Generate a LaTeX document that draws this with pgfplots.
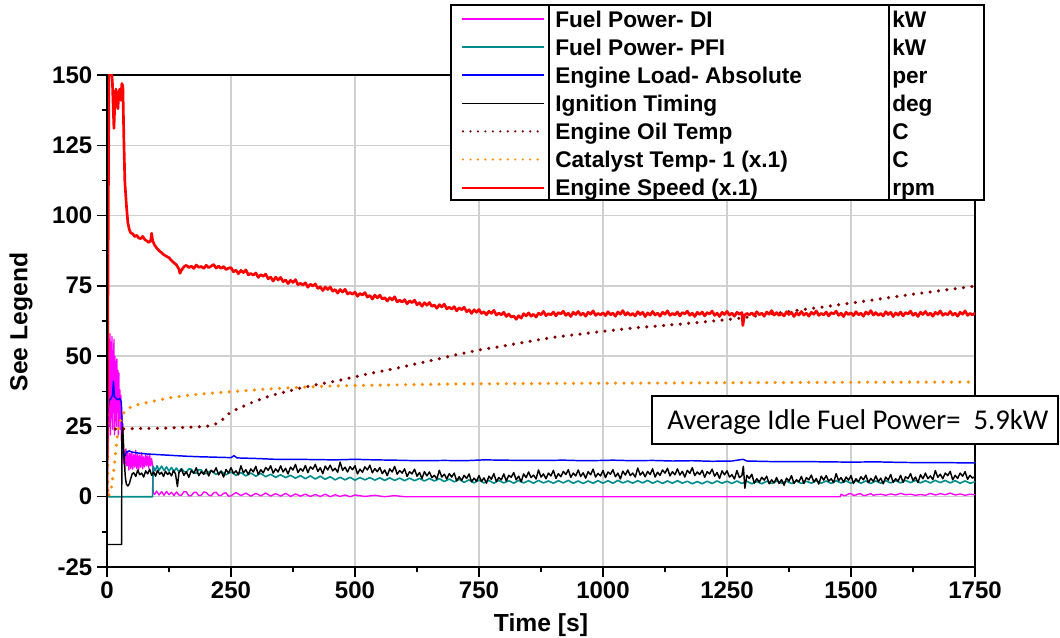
\documentclass[border=0pt]{standalone}
\usepackage{pgfplots}
\pgfplotsset{compat=1.18}
\usepackage{fontspec}
\setmainfont{Liberation Sans}
\newfontfamily\carlito{Carlito}
\definecolor{cMag}{RGB}{255,0,255}
\definecolor{cTeal}{RGB}{0,140,140}
\definecolor{cBlue}{RGB}{0,0,255}
\definecolor{cOil}{RGB}{128,0,0}
\definecolor{cCat}{RGB}{255,140,0}
\definecolor{cRed}{RGB}{255,0,0}
\definecolor{cGrid}{RGB}{208,208,208}
\tikzset{
  sDI/.style={draw=cMag, line width=1pt, line join=round},
  sPFI/.style={draw=cTeal, line width=1.2pt, line join=round},
  sLoad/.style={draw=cBlue, line width=1.1pt, line join=round},
  sIgn/.style={draw=black, line width=1.1pt, line join=round},
  sOil/.style={draw=cOil, line width=2.6pt, line cap=round, dash pattern=on 0pt off 6.3pt},
  sCat/.style={draw=cCat, line width=2.6pt, line cap=round, dash pattern=on 0pt off 6.3pt},
  sSpd/.style={draw=cRed, line width=2pt, line join=round},
}
\begin{document}
\begin{tikzpicture}
\begin{axis}[
  at={(0pt,0pt)}, anchor=south west,
  scale only axis, width=651pt, height=369pt,
  xmin=0, xmax=1750, ymin=-25, ymax=150,
  xtick={0,250,...,1750}, ytick={-25,0,...,150},
  minor tick num=1,
  tickpos=left,
  tick align=outside,
  major tick length=7.5pt, minor tick length=4pt,
  tick style={black, line width=1.1pt},
  grid=major,
  major grid style={draw=cGrid, line width=1pt},
  axis line style={line width=0.8pt},
  tick label style={font=\fontsize{18}{21}\selectfont\bfseries},
  /pgf/number format/assume math mode=true,
  /pgf/number format/1000 sep={},
  xlabel={Time [s]}, ylabel={See Legend},
  label style={font=\fontsize{18.5}{22}\selectfont\bfseries},
  xlabel style={at={(axis description cs:0.5,-0.118)}, anchor=center},
  ylabel style={at={(axis description cs:-0.099,0.498)}, anchor=center},
  no markers,
]
% Fuel Power- DI
\addplot[sDI] coordinates {
(0,0)(2,45)(3,20)(4,56)(5,25)(6,58)(7,22)(8,55)(9,28)(10,57)(11,24)(12,52)(13,30)(14,56)(15,22)
(16,50)(17,27)(18,48)(19,25)(20,49)(21,30)(22,45)(23,22)(24,44)(25,27)(26,38)(27,24)(28,36)(29,20)
(30,30)(31,18)(32,26)(33,12)(34,16)(36,10)(38,17)(40,11)(42,16)(44,9.5)(46,15.5)(48,10)(50,16)
(52,9.8)(54,15)(56,10.5)(58,16.5)(60,10)(62,15)(64,9.6)(66,14.8)(68,10.5)(70,15.6)(72,10)(74,14.2)
(76,10.6)(78,15)(80,11)(82,14.5)(84,10.2)(86,15.2)(88,11)(90,13.5)(92,11)(93,1.5)(96,0.8)(100,2.0)
(105,0.6)(110,1.8)(115,0.5)(120,1.9)(125,0.7)(130,1.6)(135,0.4)(140,1.7)(145,0.6)(150,0.5)(155,1.8)
(160,1.7)(165,0.3)(170,0.4)(175,1.5)(180,1.6)(185,0.4)(190,0.5)(195,1.7)(200,1.5)(205,0.6)(210,0.3)
(215,1.4)(220,1.6)(225,0.5)(230,0.4)(235,1.2)(240,1.4)(245,0.2)(250,0.3)(260,1.5)(270,0.4)(280,1.3)
(290,0.2)(300,1.2)(310,0.3)(320,1.3)(330,0.2)(340,1.1)(350,0.2)(360,1.2)(370,0.1)(380,1.0)(390,0.2)
(400,0.9)(410,0.1)(420,0.8)(430,0.1)(440,0.9)(450,0.0)(460,0.7)(470,0.1)(480,0.6)(490,0.0)(500,0.6)
(520,0.1)(540,0.5)(560,0.0)(580,0.4)(600,0.0)(1478,0)(1480,0.9)(1485,0.4)(1490,0.5)(1495,1.0)(1500,1.1)
(1505,0.5)(1510,0.6)(1515,1.0)(1520,1.0)(1525,0.4)(1530,0.5)(1540,1.1)(1545,0.5)(1550,0.7)(1560,0.9)
(1570,0.5)(1580,1.0)(1590,0.6)(1600,1.2)(1610,0.7)(1620,0.9)(1630,0.5)(1640,0.8)(1650,0.5)(1660,1.2)
(1670,0.6)(1680,1.1)(1690,0.7)(1700,1.3)(1710,0.6)(1720,1.0)(1730,0.5)(1740,0.9)(1750,0.7)
};
% Fuel Power- PFI
\addplot[sPFI] coordinates {
(0,0)(92,0)(93,10.8)(97,9.2)(101,11.0)(105,9.4)(110,10.9)(115,9.3)(120,10.6)(125,9.1)(130,10.4)
(135,9.0)(140,10.2)(145,8.8)(150,10.0)(155,9.0)(160,8.7)(165,9.9)(170,9.8)(175,8.5)(180,8.4)(185,9.6)
(190,9.5)(195,8.3)(200,8.2)(210,9.3)(220,7.9)(230,9.0)(240,7.8)(250,8.8)(260,7.6)(270,8.6)(280,7.4)
(290,8.4)(300,7.3)(310,8.3)(320,7.1)(330,8.0)(340,6.9)(350,7.8)(360,6.8)(370,7.6)(380,6.6)(390,7.5)
(400,6.4)(410,7.4)(420,6.3)(430,7.3)(440,6.2)(450,7.1)(460,6.0)(470,6.9)(480,6.0)(490,6.9)(500,5.9)
(510,6.8)(520,6.0)(530,6.8)(540,5.9)(550,6.7)(560,5.8)(570,6.7)(580,5.8)(590,6.6)(600,5.7)(610,6.6)
(620,5.7)(630,6.5)(640,5.6)(650,6.5)(660,5.6)(670,6.4)(680,5.4)(690,6.3)(700,5.3)(710,6.2)(720,5.1)
(730,6.0)(740,4.9)(750,5.9)(760,4.9)(770,5.8)(780,4.8)(790,5.8)(800,4.9)(810,5.7)(820,4.8)(830,5.8)
(840,4.9)(850,5.7)(860,4.8)(870,5.8)(880,4.9)(890,5.6)(900,4.8)(910,5.7)(920,4.9)(930,5.8)(940,4.8)
(950,5.6)(960,4.7)(970,5.6)(980,4.8)(990,5.7)(1000,4.8)(1010,5.7)(1020,4.8)(1030,5.8)(1040,4.9)
(1050,5.6)(1060,4.8)(1070,5.7)(1080,4.9)(1090,5.8)(1100,4.8)(1110,5.6)(1120,4.7)(1130,5.6)(1140,4.8)
(1150,5.7)(1160,4.8)(1170,5.5)(1180,4.6)(1190,5.4)(1200,4.6)(1210,5.5)(1220,4.7)(1230,5.6)(1240,4.8)
(1250,5.5)(1260,4.7)(1270,5.6)(1280,4.7)(1290,5.5)(1300,4.6)(1310,5.4)(1320,4.6)(1330,5.5)(1340,4.7)
(1350,5.6)(1360,4.8)(1370,5.5)(1380,4.7)(1390,5.6)(1400,4.7)(1410,5.5)(1420,4.8)(1430,5.7)(1440,4.8)
(1450,5.6)(1460,4.7)(1470,5.7)(1480,4.9)(1490,5.6)(1500,4.8)(1510,5.7)(1520,4.8)(1530,5.6)(1540,4.7)
(1550,5.6)(1560,4.8)(1570,5.7)(1580,4.9)(1590,5.7)(1600,4.9)(1610,5.8)(1620,5.0)(1630,5.8)(1640,4.9)
(1650,5.7)(1660,4.9)(1670,5.8)(1680,5.0)(1690,5.8)(1700,4.9)(1710,5.7)(1720,4.8)(1730,5.6)(1740,4.8)
(1750,5.3)
};
% Engine Load- Absolute
\addplot[sLoad] coordinates {
(0,0)(2,30)(4,34)(8,35)(11,36)(13,41)(15,35.5)(18,35)(22,34.5)(26,35)(29,33.5)(31,22)(33,14)(36,14.5)
(40,16)(45,16.3)(50,15.9)(60,15.6)(70,15.4)(80,15.2)(100,15)(120,14.8)(140,14.6)(160,14.4)(188,14.2)
(210,14.1)(250,13.9)(256,14.6)(262,13.8)(300,13.6)(340,13.3)(380,13.3)(420,13.2)(460,13.1)(500,13.3)
(540,13.1)(580,13.0)(600,12.9)(640,12.8)(680,12.9)(720,12.8)(760,13.1)(800,13.0)(840,12.9)(880,12.9)
(920,13.0)(960,12.8)(1000,12.9)(1020,13.0)(1060,12.8)(1100,12.9)(1140,12.7)(1180,12.8)(1220,12.6)
(1260,12.7)(1282,13.3)(1290,12.7)(1340,12.5)(1400,12.5)(1450,12.4)(1500,12.3)(1550,12.4)(1600,12.2)
(1650,12.1)(1700,12.1)(1750,12.0)
};
% Ignition Timing
\addplot[sIgn] coordinates {
(0,0)(0.5,-17)(29.5,-17)(30,22)(31.5,24.5)(33,20)(35,12)(37,7)(39,4.5)(42,3.8)(45,4.6)(48,6.5)(51,8.2)
(54,8.5)(58,7.2)(62,9.5)(66,7.8)(70,8.4)(74,7.0)(78,9.2)(82,8.1)(86,9.8)(90,7.6)(94,8.8)(98,7.3)
(102,9.4)(106,8.0)(110,8.7)(114,7.2)(118,9.1)(122,7.9)(126,8.6)(130,7.4)(134,9.3)(138,8.2)(142,3.6)
(145,8.5)
(150,9.8)(155,7.6)(160,8.9)(165,6.9)(170,9.3)(175,8.3)(180,10.3)(185,7.5)(190,8.9)(195,8.0)
(200,9.8)(205,7.4)(210,9.4)(215,8.6)(220,10.3)(225,7.8)(230,9.1)(235,7.0)(240,9.7)(245,8.4)
(250,10.3)(255,8.3)(260,9.2)(265,7.8)(270,11.0)(275,8.5)(280,9.6)(285,7.9)(290,9.9)(295,8.8)
(300,10.8)(305,7.9)(310,9.6)(315,8.5)(320,10.4)(325,9.4)(330,11.0)(335,8.4)(340,9.9)(345,8.8)
(350,11.0)(355,8.8)(360,10.1)(365,8.1)(370,10.5)(375,9.5)(380,11.5)(385,8.6)(390,10.0)(395,9.1)
(400,11.1)(405,8.6)(410,10.6)(415,9.8)(420,11.5)(425,9.0)(430,10.3)(435,8.2)(440,10.9)(445,9.5)
(450,11.2)(455,9.2)(460,10.1)(465,8.7)(470,12.3)(475,9.4)(480,10.5)(485,8.8)(490,10.7)(495,9.6)
(500,11.0)(505,8.1)(510,9.8)(515,8.7)(520,10.6)(525,9.5)(530,11.2)(535,8.5)(540,10.0)(545,8.9)
(550,10.4)(555,8.2)(560,9.5)(565,7.5)(570,9.9)(575,8.8)(580,10.8)(585,8.0)(590,9.3)(595,8.4)
(600,9.9)(605,7.2)(610,8.9)(615,8.1)(620,9.8)(625,7.3)(630,8.6)(635,6.5)(640,8.9)(645,7.4)
(650,8.8)(655,6.8)(660,7.6)(665,6.3)(670,9.4)(675,7.0)(680,8.0)(685,6.3)(690,8.2)(695,7.0)
(700,8.4)(705,5.6)(710,7.1)(715,5.8)(720,7.6)(725,6.5)(730,8.1)(735,5.3)(740,6.6)(745,5.5)
(750,7.5)(755,5.4)(760,6.7)(765,4.8)(770,7.3)(775,6.2)(780,8.2)(785,5.4)(790,6.8)(795,6.0)
(800,8.1)(805,5.6)(810,7.6)(815,6.9)(820,8.6)(825,6.0)(830,7.3)(835,5.3)(840,8.1)(845,6.8)
(850,8.8)(855,6.8)(860,7.7)(865,6.3)(870,9.5)(875,7.0)(880,8.1)(885,6.4)(890,8.4)(895,7.4)
(900,9.4)(905,6.5)(910,8.2)(915,7.1)(920,9.0)(925,7.9)(930,9.6)(935,6.9)(940,8.4)(945,7.4)
(950,9.5)(955,7.2)(960,8.5)(965,6.6)(970,8.9)(975,7.8)(980,9.8)(985,7.0)(990,8.3)(995,7.4)
(1000,9.3)(1005,6.8)(1010,8.8)(1015,8.0)(1020,9.6)(1025,7.1)(1030,8.4)(1035,6.3)(1040,9.1)(1045,7.7)
(1050,9.5)(1055,7.5)(1060,8.4)(1065,7.0)(1070,10.2)(1075,7.7)(1080,8.8)(1085,7.1)(1090,9.0)(1095,7.9)
(1100,9.9)(1105,7.0)(1110,8.7)(1115,7.6)(1120,9.5)(1125,8.4)(1130,10.1)(1135,7.4)(1140,8.9)(1145,7.8)
(1150,9.9)(1155,7.7)(1160,9.0)(1165,7.0)(1170,9.4)(1175,8.3)(1180,10.3)(1185,7.5)(1190,8.8)(1195,7.9)
(1200,9.4)(1205,6.9)(1210,8.9)(1215,8.1)(1220,9.8)(1225,7.3)(1230,8.6)(1235,6.5)(1240,9.2)(1245,7.8)
(1250,9.2)(1255,7.0)(1260,7.8)(1265,6.3)(1270,9.3)(1275,6.8)(1280,7.5)(1283,10.8)(1286,3.0)(1290,7.6)
(1295,6.5)
(1300,8.0)(1305,4.8)(1310,6.4)(1315,5.2)(1320,6.9)(1325,5.9)(1330,7.3)(1335,4.6)(1340,6.0)(1345,4.9)
(1350,6.8)(1355,4.7)(1360,6.1)(1365,4.1)(1370,6.6)(1375,5.5)(1380,7.5)(1385,4.7)(1390,6.0)(1395,5.3)
(1400,7.2)(1405,4.7)(1410,6.8)(1415,6.0)(1420,7.7)(1425,5.2)(1430,6.5)(1435,4.5)(1440,7.3)(1445,5.9)
(1450,7.5)(1455,5.5)(1460,6.4)(1465,5.0)(1470,8.2)(1475,5.7)(1480,6.8)(1485,5.1)(1490,7.0)(1495,5.9)
(1500,7.5)(1505,4.7)(1510,6.4)(1515,5.3)(1520,7.1)(1525,6.0)(1530,7.7)(1535,5.0)(1540,6.5)(1545,5.4)
(1550,7.4)(1555,5.3)(1560,6.6)(1565,4.6)(1570,7.0)(1575,5.9)(1580,7.9)(1585,5.1)(1590,6.4)(1595,5.5)
(1600,7.6)(1605,5.1)(1610,7.1)(1615,6.4)(1620,8.2)(1625,5.7)(1630,7.0)(1635,5.0)(1640,7.8)(1645,6.4)
(1650,8.4)(1655,6.4)(1660,7.4)(1665,6.1)(1670,9.3)(1675,6.9)(1680,8.0)(1685,6.4)(1690,8.4)(1695,7.5)
(1700,9.0)(1705,6.0)(1710,7.6)(1715,6.5)(1720,8.4)(1725,7.3)(1730,8.9)(1735,6.2)(1740,7.6)(1745,6.6)
(1750,7.2)
};
% Engine Oil Temp
\addplot[sOil] coordinates {
(0,24)(50,24.2)(100,24.3)(150,24.6)(200,25.0)(215,25.6)(228,26.6)(240,28.6)(250,30.2)(261,31.1)
(295,33.7)(329,35.9)(362,37.4)(396,38.9)(436,40.3)(463,41.2)(524,43.6)(584,45.7)(650,48.3)(700,50.3)
(750,52.2)(792,53.4)(850,55.2)(900,56.7)(994,58.7)(1060,60.0)(1129,61.0)(1195,62.0)(1262,63.2)
(1330,64.8)(1397,66.4)(1498,68.8)(1599,71.4)(1680,73.3)(1750,74.9)
};
% Catalyst Temp- 1 (x.1)
\addplot[sCat] coordinates {
(0,62)(1,30)(2,0)(8,2)(11,6)(15,11.3)(18,16.6)(21,22)(25,26)(30,28.5)(36,30.5)(43,31.4)(55,32.4)
(73,33.2)(100,34.2)(120,35)(150,35.8)(188,36.5)(254,37.4)(322,38.3)(389,38.9)(456,39.4)(524,39.6)
(591,39.8)(700,40.1)(900,40.3)(1200,40.5)(1500,40.7)(1750,40.8)
};
% Engine Speed (x.1)
\addplot[sSpd] coordinates {
(0,0)(4,155)(8,155)(11,147)(13,136)(14,131)(16,141)(18,145)(20,140)(22,138)(24,144)(26,145)(28,141)
(30,147)(32,146)(34,127)(36,112)(39,104)(42,97.5)(45,95)(48,93.8)(52,93.5)(56,92.5)(60,93)(64,92)
(68,91.8)(72,92.6)(76,91.5)(80,91)(84,90.5)(88,91)(90,93.7)(92,91)(96,89.5)(100,88.5)(105,87.5)
(110,86.8)(115,86)(120,85.5)(125,85)(130,84)(135,83.2)(140,82.5)(145,81)(147,79.5)(150,80.5)
(155,81.8)(160,82.3)(165,81.5)(170,82)(175,81.2)(180,82.4)(185,81.6)(190,81.9)(195,81.2)(200,82.3)
(205,81.5)(210,82)(215,82.6)(220,81.3)(225,82)(230,81.2)(235,81.9)(240,80.8)(245,81.3)
(250,81.5)(255,80.0)(260,80.6)(265,79.3)(270,80.5)(275,79.7)(280,80.7)(285,78.9)(290,79.4)(295,78.8)
(300,79.6)(305,78.0)(310,79.0)(315,78.4)(320,79.2)(325,77.5)(330,78.1)(335,76.7)(340,78.1)(345,77.1)
(350,78.0)(355,76.5)(360,77.1)(365,75.8)(370,77.0)(375,76.2)(380,77.2)(385,75.4)(390,75.9)(395,75.3)
(400,76.1)(405,74.5)(410,75.6)(415,74.9)(420,75.7)(425,74.1)(430,74.7)(435,73.3)(440,74.6)(445,73.7)
(450,74.6)(455,73.1)(460,73.7)(465,72.4)(470,73.7)(475,72.8)(480,73.8)(485,72.1)(490,72.6)(495,72.0)
(500,72.8)(505,71.3)(510,72.3)(515,71.7)(520,72.6)(525,71.0)(530,71.6)(535,70.3)(540,71.7)(545,70.7)
(550,71.7)(555,70.3)(560,70.8)(565,69.6)(570,70.8)(575,70.0)(580,71.1)(585,69.3)(590,69.9)(595,69.2)
(600,70.1)(605,68.6)(610,69.7)(615,69.0)(620,69.9)(625,68.3)(630,69.0)(635,67.7)(640,69.0)(645,68.1)
(650,69.1)(655,67.7)(660,68.2)(665,67.0)(670,68.3)(675,67.5)(680,68.5)(685,66.8)(690,67.4)(695,66.7)
(700,67.6)(705,66.1)(710,67.2)(715,66.5)(720,67.4)(725,65.8)(730,66.5)(735,65.2)(740,66.5)(745,65.6)
(750,66.6)(755,65.2)(760,65.8)(765,64.7)(770,66.0)(775,65.2)(780,66.3)(785,64.6)(790,65.3)(795,64.7)
(800,65.6)(805,64.1)(810,65.0)(815,63.9)(820,64.3)(825,63.1)(830,64.4)(835,63.5)(840,65.1)(845,64.3)
(850,65.4)(855,64.2)(860,64.9)(865,63.9)(870,65.3)(875,64.7)(880,65.9)(885,64.4)(890,65.1)(895,64.7)
(900,65.7)(905,64.3)(910,65.5)(915,65.0)(920,66.0)(925,64.5)(930,65.3)(935,64.1)(940,65.6)(945,64.8)
(950,65.9)(955,64.6)(960,65.3)(965,64.2)(970,65.6)(975,64.9)(980,66.1)(985,64.5)(990,65.2)(995,64.7)
(1000,65.4)(1005,64.4)(1010,65.8)(1015,64.7)(1020,65.3)(1025,64.2)(1030,65.7)(1035,64.9)(1040,66.2)(1045,64.6)
(1050,65.5)(1055,64.5)(1060,65.2)(1065,64.3)(1070,65.8)(1075,64.8)(1080,65.6)(1085,64.1)(1090,65.4)(1095,64.6)
(1100,65.9)(1105,64.6)(1110,65.3)(1115,64.2)(1120,65.6)(1125,64.9)(1130,66.1)(1135,64.5)(1140,65.2)(1145,64.7)
(1150,65.7)(1155,64.3)(1160,65.5)(1165,65.0)(1170,66.0)(1175,64.5)(1180,65.3)(1185,64.1)(1190,65.6)(1195,64.8)
(1200,65.7)(1205,64.3)(1210,65.5)(1215,65.0)(1220,66.0)(1225,64.5)(1230,65.3)(1235,64.1)(1240,65.6)(1245,64.8)
(1250,65.9)(1255,64.6)(1260,65.3)(1265,64.2)(1270,65.6)(1275,64.9)(1280,65.5)(1282,60.9)(1285,64.5)(1290,65.2)
(1295,64.7)
(1300,65.4)(1305,64.4)(1310,65.8)(1315,64.7)(1320,65.3)(1325,64.2)(1330,65.7)(1335,64.9)(1340,66.2)(1345,64.6)
(1350,65.5)(1355,64.5)(1360,65.2)(1365,64.3)(1370,65.8)(1375,64.8)(1380,65.6)(1385,64.1)(1390,65.4)(1395,64.6)
(1400,65.9)(1405,64.6)(1410,65.3)(1415,64.2)(1420,65.6)(1425,64.9)(1430,66.1)(1435,64.5)(1440,65.2)(1445,64.7)
(1450,65.7)(1455,64.3)(1460,65.5)(1465,65.0)(1470,66.0)(1475,64.5)(1480,65.3)(1485,64.1)(1490,65.6)(1495,64.8)
(1500,65.4)(1505,64.4)(1510,65.8)(1515,64.7)(1520,65.3)(1525,64.2)(1530,65.7)(1535,64.9)(1540,66.2)(1545,64.6)
(1550,65.5)(1555,64.5)(1560,65.2)(1565,64.3)(1570,65.8)(1575,64.8)(1580,65.6)(1585,64.1)(1590,65.4)(1595,64.6)
(1600,65.7)(1605,64.3)(1610,65.5)(1615,65.0)(1620,66.0)(1625,64.5)(1630,65.3)(1635,64.1)(1640,65.6)(1645,64.8)
(1650,65.9)(1655,64.6)(1660,65.3)(1665,64.2)(1670,65.6)(1675,64.9)(1680,66.1)(1685,64.5)(1690,65.2)(1695,64.7)
(1700,65.9)(1705,64.6)(1710,65.3)(1715,64.2)(1720,65.6)(1725,64.9)(1730,66.1)(1735,64.5)(1740,65.2)(1745,64.7)
(1750,65.3)
};
\end{axis}
\begin{scope}[x=0.75pt, y=-0.75pt, shift={(-80.25pt,425.25pt)}]
  % heavier left and bottom axis lines
  \draw[draw=black, line width=2pt, line cap=rect] (107,75) -- (107,567) -- (975,567);
  % legend table
  \fill[fill=white] (451,5) rectangle (984,200);
  \draw[draw=black, line width=1.4pt] (451,5) rectangle (984,200);
  \draw[draw=black, line width=1.1pt] (549,5) -- (549,200) (889,5) -- (889,200);
  \draw[draw=cMag, line width=1.1pt] (462,19) -- (544,19);
  \draw[draw=cTeal, line width=1.1pt] (462,47.1) -- (544,47.1);
  \draw[draw=cBlue, line width=1.1pt] (462,75.2) -- (544,75.2);
  \draw[draw=black, line width=1.1pt] (462,103.3) -- (544,103.3);
  \draw[draw=cOil, line width=1.8pt, line cap=round, dash pattern=on 0pt off 5.6pt] (463,131.4) -- (544,131.4);
  \draw[draw=cCat, line width=1.8pt, line cap=round, dash pattern=on 0pt off 5.6pt] (463,159.5) -- (544,159.5);
  \draw[draw=cRed, line width=1.4pt] (462,187.6) -- (544,187.6);
  \begin{scope}[every node/.style={anchor=base west, inner sep=0pt, font=\fontsize{17}{20}\selectfont\bfseries}]
    \node at (555,27.3) {Fuel Power- DI};
    \node at (555,55.4) {Fuel Power- PFI};
    \node at (555,83.5) {Engine Load- Absolute};
    \node at (555,111.6) {Ignition Timing};
    \node at (555,139.7) {Engine Oil Temp};
    \node at (555,167.8) {Catalyst Temp- 1 (x.1)};
    \node at (555,195.9) {Engine Speed (x.1)};
    \node at (892,27.3) {kW};
    \node at (892,55.4) {kW};
    \node at (892,83.5) {per};
    \node at (892,111.6) {deg};
    \node at (892,139.7) {C};
    \node at (892,167.8) {C};
    \node at (892,195.9) {rpm};
  \end{scope}
  % annotation
  \filldraw[fill=white, draw=black, line width=1.1pt] (652,396) rectangle (1058,444);
  \node[anchor=base west, inner sep=0pt, font=\carlito\fontsize{21.5}{25}\selectfont] at (667,430) {Average Idle Fuel Power=\ \ 5.9kW};
  \pgfresetboundingbox
  \useasboundingbox (0,0) rectangle (1060,638);
\end{scope}
\end{tikzpicture}
\end{document}
